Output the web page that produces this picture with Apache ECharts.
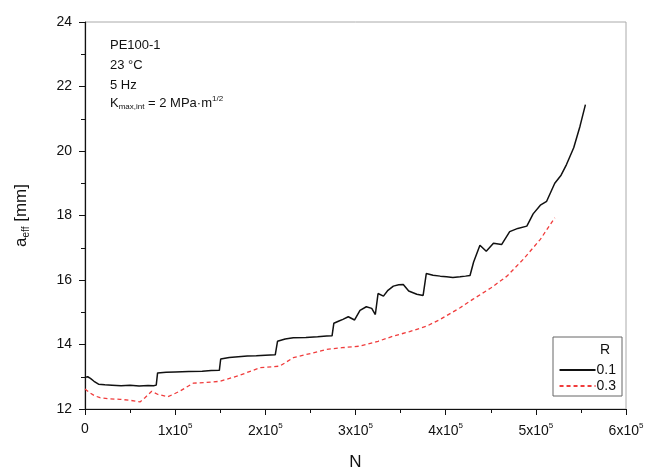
<!DOCTYPE html>
<html>
<head>
<meta charset="utf-8">
<script src="https://cdn.jsdelivr.net/npm/echarts@6/dist/echarts.min.js"></script>
<style>html,body{margin:0;padding:0;background:#fff;}#c{width:649px;height:475px;}</style>
</head>
<body>
<div id="c"></div>
<script>
// R = 0.1 (black, solid)
var nBlack = [0,3000,6000,10000,15000,22000,30000,40000,50000,60000,70000,76000,79000,80500,90000,100000,115000,130000,140000,149000,150500,160000,170000,180000,190000,200000,211000,213500,222000,231000,245000,258000,268000,274000,276000,281000,286000,292000,299000,305000,312000,318000,322000,325000,331000,336000,342000,348000,353000,359000,368000,375000,378500,386000,394000,401000,408000,416000,422000,427000,431000,438000,445000,453000,462000,471000,480000,490000,497000,505000,512000,521000,528000,534000,542000,549000,555000];
var aBlack = [12.98,13.0,12.95,12.86,12.77,12.75,12.74,12.72,12.74,12.71,12.73,12.72,12.74,13.12,13.14,13.15,13.16,13.17,13.19,13.2,13.55,13.6,13.62,13.64,13.65,13.67,13.68,14.1,14.17,14.21,14.22,14.24,14.26,14.27,14.66,14.72,14.78,14.86,14.76,15.06,15.17,15.12,14.93,15.58,15.5,15.68,15.81,15.85,15.86,15.66,15.56,15.52,16.2,16.15,16.12,16.1,16.08,16.1,16.12,16.14,16.56,17.08,16.89,17.14,17.1,17.5,17.6,17.67,18.05,18.32,18.44,19.0,19.25,19.58,20.1,20.77,21.44];

// R = 0.3 (red, dashed)
var nRed = [0,1500,5500,10000,16600,25000,38800,50000,61000,66500,74000,81000,92000,105000,120000,133000,150000,172000,194000,216000,231000,250000,268000,285000,305000,325000,342000,360000,379000,394000,416000,430000,450000,468000,486000,505000,521000];
var aRed = [12.62,12.66,12.5,12.42,12.35,12.32,12.3,12.27,12.22,12.35,12.55,12.45,12.38,12.55,12.8,12.82,12.86,13.05,13.28,13.33,13.59,13.72,13.85,13.9,13.95,14.1,14.26,14.4,14.57,14.78,15.14,15.4,15.75,16.12,16.64,17.26,17.93];

var xMin = 0, xMax = 600000, xStep = 100000;
var yMin = 12, yMax = 24, yStep = 2;
var seriesNames = ['0.1', '0.3'];

function pairs(xs, ys){ return xs.map(function(x,i){ return [x, ys[i]]; }); }

var FONT = 'Liberation Sans, Arial, sans-serif';
var chart = echarts.init(document.getElementById('c'), null, {renderer:'canvas'});
chart.setOption({
  backgroundColor: '#fff',
  animation: false,
  grid: {left: 85, top: 22, right: 23, bottom: 66, containLabel: false, outerBoundsMode: 'none',
         show: true, borderColor: '#aaa', borderWidth: 1, backgroundColor: 'transparent'},
  xAxis: {
    type: 'value', min: xMin, max: xMax, interval: xStep,
    name: 'N', nameLocation: 'middle', nameGap: 45,
    nameTextStyle: {fontFamily: FONT, fontSize: 17, color: '#111'},
    axisLine: {show: true, onZero: false, lineStyle: {color: '#111', width: 1.2}},
    axisTick: {show: true, length: 6, lineStyle: {color: '#111'}},
    minorTick: {show: true, splitNumber: 2, length: 4, lineStyle: {color: '#111'}},
    splitLine: {show: false},
    axisLabel: {
      margin: 13, color: '#111', fontFamily: FONT, fontSize: 14,
      formatter: function(v){ return v === 0 ? '0' : (v/1e5) + 'x10{sup|5}'; },
      rich: {sup: {fontSize: 8, fontFamily: FONT, color: '#111', padding: [0,0,10,0]}}
    }
  },
  yAxis: {
    type: 'value', min: yMin, max: yMax, interval: yStep,
    name: 'a{sub|eff} [mm]', nameLocation: 'middle', nameGap: 54, nameRotate: 90,
    nameTextStyle: {fontFamily: FONT, fontSize: 17, color: '#111',
      rich: {sub: {fontSize: 10, fontFamily: FONT, color: '#111', padding: [10,0,0,0]}}},
    axisLine: {show: true, lineStyle: {color: '#111', width: 1.2}},
    axisTick: {show: true, length: 6, lineStyle: {color: '#111'}},
    minorTick: {show: true, splitNumber: 2, length: 4, lineStyle: {color: '#111'}},
    splitLine: {show: false},
    axisLabel: {margin: 13, color: '#111', fontFamily: FONT, fontSize: 14}
  },
  legend: {
    orient: 'vertical', right: 28, top: 358, itemGap: 2,
    itemWidth: 36, itemHeight: 14, align: 'left',
    itemStyle: {color: 'transparent', borderWidth: 0, opacity: 0},
    textStyle: {fontFamily: FONT, fontSize: 14, color: '#111', padding: [0,0,0,-4]},
    data: seriesNames
  },
  graphic: [
    {type: 'rect', shape: {x: 553, y: 337, width: 69, height: 59}, style: {fill: 'none', stroke: '#666', lineWidth: 1}, z: 1},
    {type: 'text', x: 600, y: 343, style: {text: 'R', font: '14px ' + FONT, fill: '#111'}},
    {type: 'text', x: 110, y: 39, style: {text: 'PE100-1', font: '13px ' + FONT, fill: '#111'}},
    {type: 'text', x: 110, y: 59, style: {text: '23 °C', font: '13px ' + FONT, fill: '#111'}},
    {type: 'text', x: 110, y: 79, style: {text: '5 Hz', font: '13px ' + FONT, fill: '#111'}},
    {type: 'text', x: 110, y: 95, style: {
      text: 'K{sub|max,int} = 2 MPa·m{sup|1/2}',
      font: '13px ' + FONT, fill: '#111',
      rich: {
        sub: {fontSize: 8, fontFamily: FONT, fill: '#111', padding: [8,0,0,0]},
        sup: {fontSize: 8, fontFamily: FONT, fill: '#111', padding: [0,0,8,0]}
      }
    }}
  ],
  series: [
    {name: seriesNames[0], type: 'line', data: pairs(nBlack, aBlack), showSymbol: false, symbol: 'none',
     lineStyle: {color: '#111', width: 1.5}, itemStyle: {color: '#111'}},
    {name: seriesNames[1], type: 'line', data: pairs(nRed, aRed), showSymbol: false, symbol: 'none',
     lineStyle: {color: '#f03c3c', width: 1.3, type: [4,3]}, itemStyle: {color: '#f03c3c'}}
  ]
});
</script>
</body>
</html>
